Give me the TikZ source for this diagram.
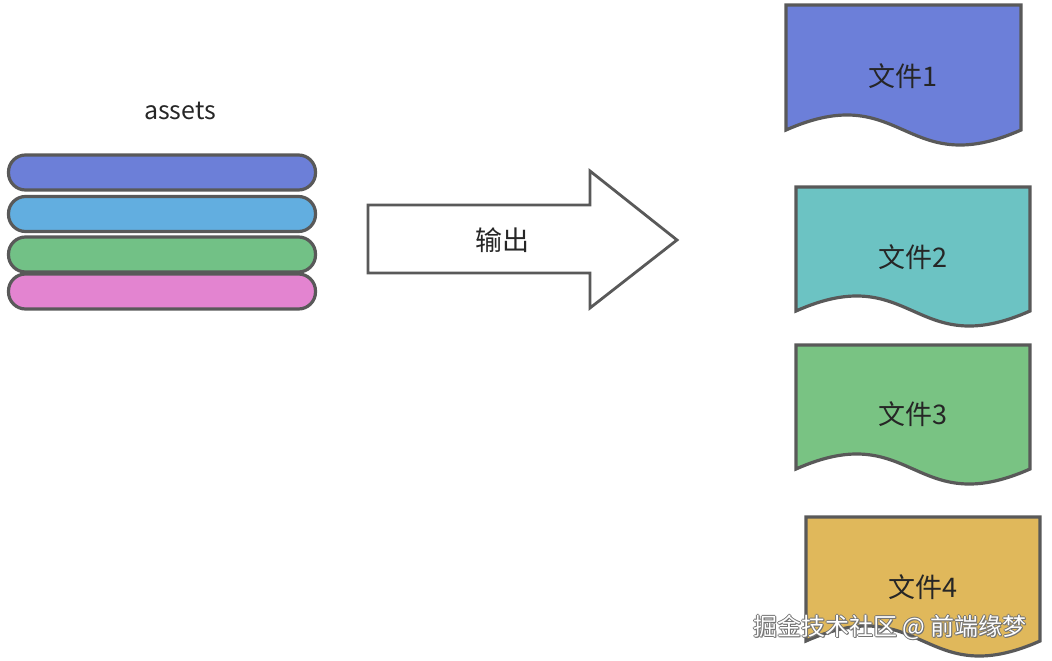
\documentclass[tikz,border=0pt]{standalone}
\usepackage{fontspec}
\setmainfont{Noto Sans CJK SC}
\definecolor{edge}{HTML}{595959}
\definecolor{layerA}{HTML}{6C7FD8}
\definecolor{layerB}{HTML}{62AEE0}
\definecolor{layerC}{HTML}{72C186}
\definecolor{layerD}{HTML}{E384D0}
\definecolor{fileA}{HTML}{6C7FD9}
\definecolor{fileB}{HTML}{6CC3C3}
\definecolor{fileC}{HTML}{79C383}
\definecolor{fileD}{HTML}{E0B85B}
\tikzset{
	pill/.style = {draw = edge, line width = 3.2pt, rounded corners = 17pt, minimum width = 307pt, minimum height = 35pt, inner sep = 0pt},
	doc/.style = {draw = edge, line width = 3.2pt},
	filetext/.style = {text = black!85, font = \fontsize{27}{32}\selectfont}
}
\begin{document}
\begin{tikzpicture}[x = 1pt, y = -1pt]
	\useasboundingbox (0, 0) rectangle (1052, 661);
	% assets stack
	\node[text = black!85, font = \fontsize{25}{30}\selectfont] (assets) at (180, 111) {assets};
	\node[pill, fill = layerA] (layer1) at (162, 172.5) {};
	\node[pill, fill = layerB] (layer2) at (162, 214) {};
	\node[pill, fill = layerC] (layer3) at (162, 254.5) {};
	\node[pill, fill = layerD] (layer4) at (162, 291.5) {};
	% output arrow
	\draw[draw = edge, line width = 2.8pt, fill = white, line join = miter] (368, 205) -- (590, 205) -- (590, 171) -- (677, 240) -- (590, 308) -- (590, 273) -- (368, 273) -- cycle;
		\node[filetext] (out) at (502, 240) {输出};
	% files
	\draw[doc, fill = fileA] (786, 130) -- (786, 5) -- (1021, 5) -- (1021, 130) .. controls (903.5, 182) and (903.5, 78) .. (786, 130) -- cycle;
		\node[filetext] (file1) at (903, 76) {文件1};
	\draw[doc, fill = fileB] (796, 311) -- (796, 187) -- (1030, 187) -- (1030, 311) .. controls (913, 363) and (913, 259) .. (796, 311) -- cycle;
		\node[filetext] (file2) at (913, 257) {文件2};
	\draw[doc, fill = fileC] (796, 469) -- (796, 345) -- (1030, 345) -- (1030, 469) .. controls (913, 521) and (913, 417) .. (796, 469) -- cycle;
		\node[filetext] (file3) at (913, 414) {文件3};
	\draw[doc, fill = fileD] (806, 641) -- (806, 517) -- (1040, 517) -- (1040, 641) .. controls (923, 693) and (923, 589) .. (806, 641) -- cycle;
		\node[filetext] (file4) at (923, 587) {文件4};
	% watermark
	\foreach \dx/\dy in {-1/0, 1/0, 0/-1, 0/1, 1/1}
		\node[text = black!55, font = \fontsize{24}{28}\selectfont] at (890 + \dx, 627 + \dy) {掘金技术社区 @ 前端缘梦};
	\node[text = white, font = \fontsize{24}{28}\selectfont] (mark) at (890, 627) {掘金技术社区 @ 前端缘梦};
\end{tikzpicture}
\end{document}
